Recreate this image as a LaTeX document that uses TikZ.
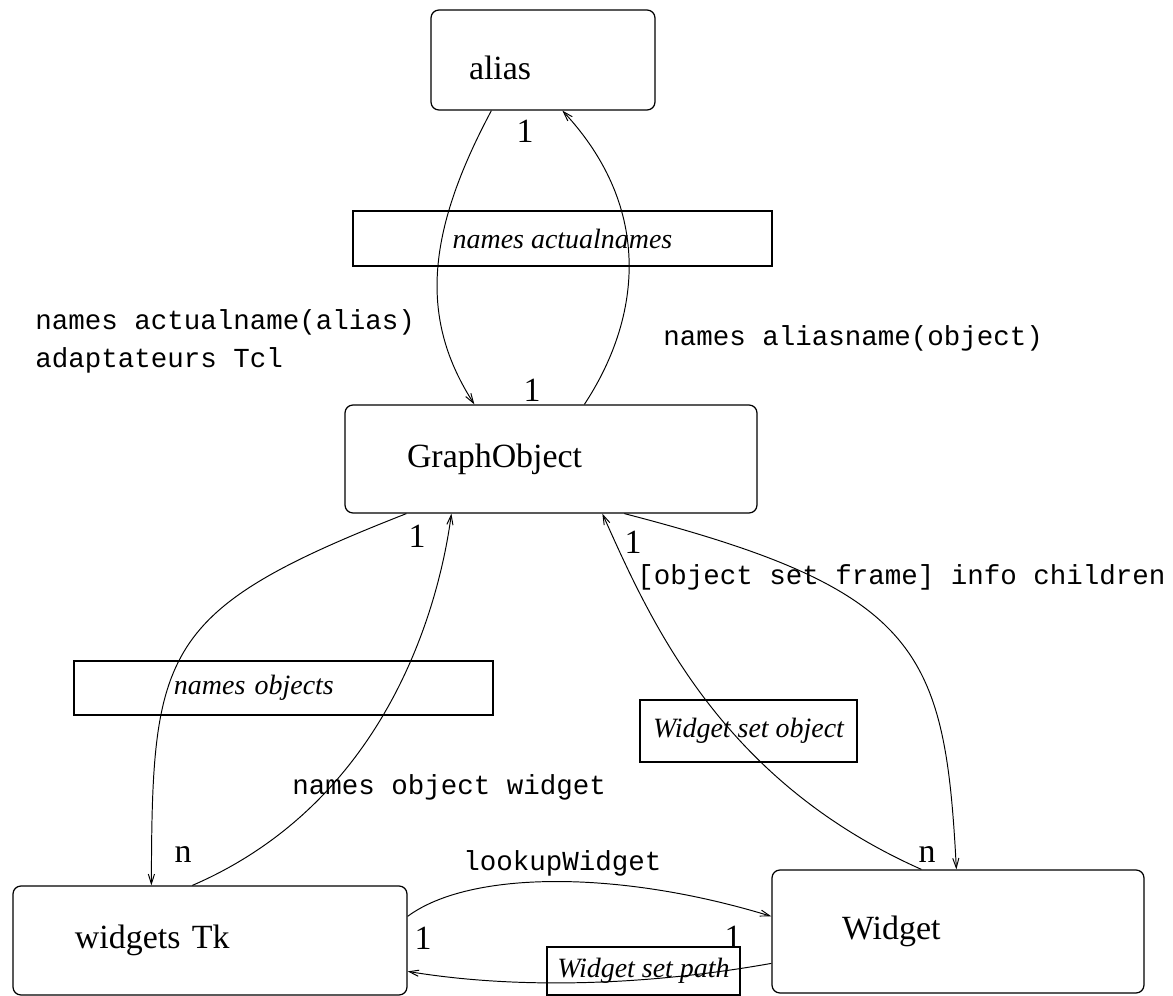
\documentclass[tikz,border=0pt]{standalone}
\usepackage{fontspec}
\setmainfont{Liberation Serif}
\setmonofont{Liberation Mono}
\usetikzlibrary{positioning,arrows.meta,calc}
\tikzset{
  cls/.style  = {draw, rounded corners=1.6mm, line width=0.7pt, align=left,
                 font=\fontsize{19.3}{22}\selectfont, inner ysep=0pt},
  note/.style = {draw, line width=0.7pt, align=center, inner ysep=0pt,
                 font=\fontsize{15.9}{18}\selectfont\itshape},
  conn/.style = {-{Straight Barb[length=5.5pt,width=3.5pt]}, line width=0.55pt},
  code/.style = {font=\fontsize{15.65}{21.6}\selectfont\ttfamily, align=left,
                 inner sep=0pt, anchor=west},
  card/.style = {font=\fontsize{19.3}{22}\selectfont, inner sep=0pt},
}
\begin{document}
\begin{tikzpicture}[x=0.2mm, y=-0.2mm]
\useasboundingbox (0,0) rectangle (1173,996);

% ---------------- classes ---------------------------------------------
\node[cls, minimum height=20mm, inner xsep=7.6mm, text width=29.6mm,
      text height=8mm, text depth=0pt]
  at (543,60) (alias) {alias};
\node[cls, minimum height=21.6mm, inner xsep=12.4mm, text width=57.6mm]
  at (551,459) (gobj) {GraphObject};
\node[cls, minimum height=21.8mm, inner xsep=12.4mm, text width=54mm]
  at (210,940.5) (tk) {widgets Tk};
\node[cls, minimum height=24.6mm, inner xsep=14mm, text width=46.4mm]
  at (958,931.5) (wdg) {Widget};

% ---------------- tables / procs --------------------------------------
\node[note, minimum width=83.8mm, minimum height=11mm] at (562.5,238.5) (actual)
  {names actualnames};
\node[note, minimum height=10.8mm, inner xsep=20mm, text width=43.8mm, align=left]
  at (283.5,688) (objs) {names objects};
\node[note, minimum width=43.4mm, minimum height=12.4mm] at (748.5,731) (wso)
  {Widget set object};
\node[note, minimum width=38.6mm, minimum height=9.6mm] at (643.5,971) (wsp)
  {Widget set path};

% ---------------- commands --------------------------------------------
\node[code] at (35,341) (cmdactual) {names actualname(alias)\\adaptateurs Tcl};
\node[code] at (663,338) (cmdalias) {names aliasname(object)};
\node[code] at (637,577) (cmdchild) {[object set frame] info children};
\node[code] at (292,787) (cmdwidget) {names object widget};
\node[code] at (463,863) (cmdlookup) {lookupWidget};

% ---------------- cardinalities ---------------------------------------
\node[card] at (525,131) (c1) {1};
\node[card] at (532,390) (c2) {1};
\node[card] at (417,536) (c3) {1};
\node[card] at (633,542) (c4) {1};
\node[card] at (183,855) (c5) {n};
\node[card] at (927,855) (c6) {n};
\node[card] at (423,938) (c7) {1};
\node[card] at (733,937) (c8) {1};

% ---------------- links -----------------------------------------------
\draw[conn] ($(alias.south west)+(61,0)$) .. controls (425,235) and (420,320)
  .. ($(gobj.north west)+(130,0)$);
\draw[conn] ($(gobj.north west)+(240,0)$) .. controls (640,320) and (655,210)
  .. ($(alias.south west)+(132,0)$);

\draw[conn] ($(gobj.south west)+(62,0)$) .. controls (160,610) and (152,650)
  .. ($(tk.north west)+(139,0)$);
\draw[conn] ($(tk.north west)+(180,0)$) .. controls (390,800) and (440,600)
  .. ($(gobj.south west)+(107,0)$);

\draw[conn] ($(wdg.north west)+(150,0)$) .. controls (720,780) and (650,620)
  .. ($(gobj.south west)+(258,0)$);
\draw[conn] ($(gobj.south west)+(280,0)$) .. controls (920,590) and (945,650)
  .. ($(wdg.north west)+(185,0)$);

\draw[conn] ($(tk.north east)+(0,31)$) .. controls (470,870) and (620,870)
  .. ($(wdg.north west)+(0,47)$);
\draw[conn] ($(wdg.north west)+(0,94)$) .. controls (650,985) and (520,990)
  .. ($(tk.north east)+(0,86)$);

\end{tikzpicture}
\end{document}
